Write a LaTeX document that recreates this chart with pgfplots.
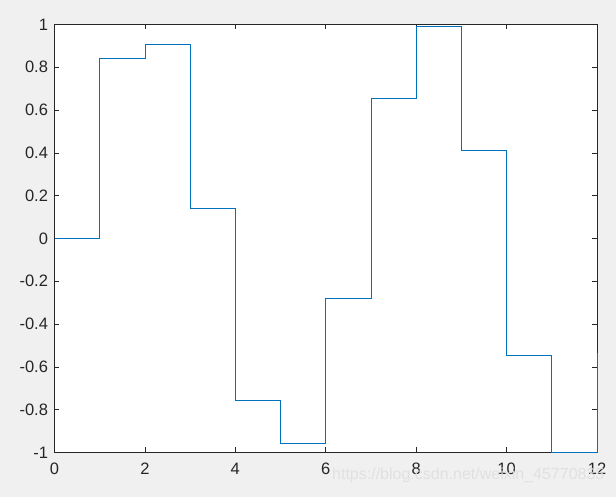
\documentclass[border=0pt]{standalone}
\usepackage{pgfplots}
\pgfplotsset{compat=1.18}
\usepackage{fontspec}
\setmainfont{Liberation Sans}
\definecolor{mblue}{RGB}{0,114,189}
\definecolor{figbg}{RGB}{240,240,240}
\definecolor{axc}{RGB}{38,38,38}
\begin{document}
\begin{tikzpicture}[x=1pt,y=1pt]
\fill[figbg] (0,0) rectangle (616,497);
\begin{axis}[
  at={(54.5pt,44.5pt)}, anchor=south west,
  width=542.5pt, height=428pt, scale only axis,
  xmin=0, xmax=12, ymin=-1, ymax=1,
  xtick={0,2,...,12}, ytick={-1,-0.8,...,1},
  yticklabels={-1,-0.8,-0.6,-0.4,-0.2,0,0.2,0.4,0.6,0.8,1},
  xticklabels={0,2,4,6,8,10,12},
  /pgf/number format/assume math mode=true,
  tick align=inside, major tick length=5pt,
  axis line style={axc, line width=0.6pt},
  tick style={axc, line width=0.6pt},
  ticklabel style={font=\fontsize{16.5}{18}\selectfont, text=axc},
  xticklabel style={yshift=-7pt},
  yticklabel style={xshift=-3pt},
  axis background/.style={fill=white},
  clip=false,
]
\addplot[const plot, mblue, line width=0.7pt] coordinates {
(0,0) (1,0.8415) (2,0.9093) (3,0.1411) (4,-0.7568) (5,-0.9589)
(6,-0.2794) (7,0.6570) (8,0.9894) (9,0.4121) (10,-0.5440) (11,-1.0000) (12,-0.5366)
};
\end{axis}
\node[anchor=base west, inner sep=0, text=white!75!gray, font=\fontsize{16}{17}\selectfont, opacity=0.9] at (332,17) {https://blog.csdn.net/weixin\_45770835};
\end{tikzpicture}
\end{document}
